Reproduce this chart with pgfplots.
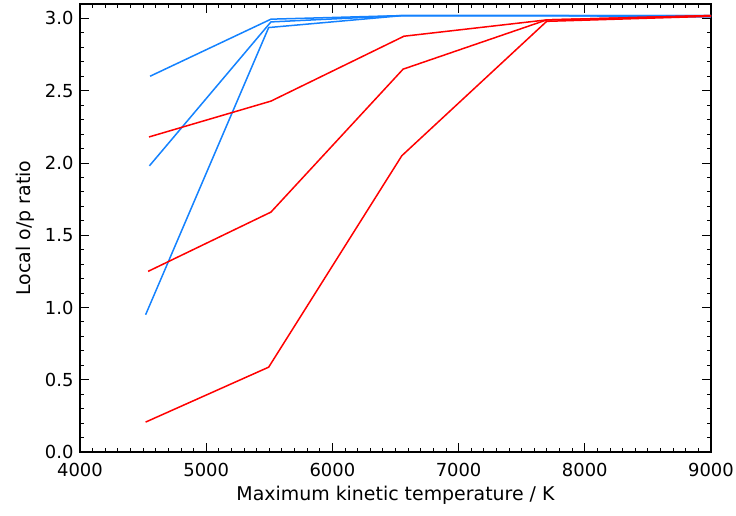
\documentclass[border=0pt]{standalone}
\usepackage{pgfplots}
\pgfplotsset{compat=1.18}
\usepackage{fontspec}
\setmainfont{DejaVu Sans}
\definecolor{idlblue}{RGB}{20,130,255}
\definecolor{idlred}{RGB}{255,0,0}
\begin{document}
\begin{tikzpicture}
\begin{axis}[
  scale only axis,
  width=631bp, height=448bp,
  xmin=4000, xmax=9000, ymin=0, ymax=3.1,
  xtick={4000,5000,...,9000},
  ytick={0,0.5,...,3.0},
  minor x tick num=9,
  minor y tick num=4,
  tick align=inside,
  major tick length=9bp,
  minor tick length=4.5bp,
  /pgf/number format/assume math mode=true,
  xticklabel style={/pgf/number format/fixed,/pgf/number format/1000 sep={}},
  yticklabel style={/pgf/number format/fixed,/pgf/number format/fixed zerofill,/pgf/number format/precision=1},
  tick label style={font=\fontsize{18}{21}\selectfont},
  every x tick label/.append style={anchor=center, yshift=-18bp},
  every y tick label/.append style={anchor=east, xshift=-3bp},
  label style={font=\fontsize{19}{22}\selectfont},
  xlabel={Maximum kinetic temperature / K},
  ylabel={Local o/p ratio},
  xlabel style={at={(axis description cs:0.5,0)}, anchor=center, yshift=-43bp},
  ylabel style={at={(axis description cs:0,0.5)}, anchor=center, rotate=0, yshift=55bp},
  axis line style={line width=1.3pt},
  every tick/.style={black, line width=0.9pt},
]
\coordinate (ll) at (rel axis cs:0,0);
\coordinate (ur) at (rel axis cs:1,1);
% blue series
\addplot[idlblue, line width=1.5bp] coordinates {(4555,2.60) (5513,2.995) (6560,3.02) (7700,3.02) (9000,3.02)};
\addplot[idlblue, line width=1.5bp] coordinates {(4550,1.98) (5513,2.976) (6560,3.02) (7700,3.02) (9000,3.02)};
\addplot[idlblue, line width=1.5bp] coordinates {(4520,0.95) (5495,2.937) (6560,3.02) (7700,3.02) (9000,3.01)};
% red series
\addplot[idlred, line width=1.5bp] coordinates {(4547,2.18) (5513,2.428) (6567,2.877) (7698,2.99) (9000,3.02)};
\addplot[idlred, line width=1.5bp] coordinates {(4540,1.25) (5513,1.66) (6560,2.649) (7698,2.99) (9000,3.02)};
\addplot[idlred, line width=1.5bp] coordinates {(4520,0.207) (5495,0.587) (6550,2.05) (7698,2.98) (9000,3.015)};
\end{axis}
\pgfresetboundingbox
\path ([shift={(-80bp,-64bp)}]ll) rectangle ([shift={(25bp,4bp)}]ur);
\end{tikzpicture}
\end{document}
